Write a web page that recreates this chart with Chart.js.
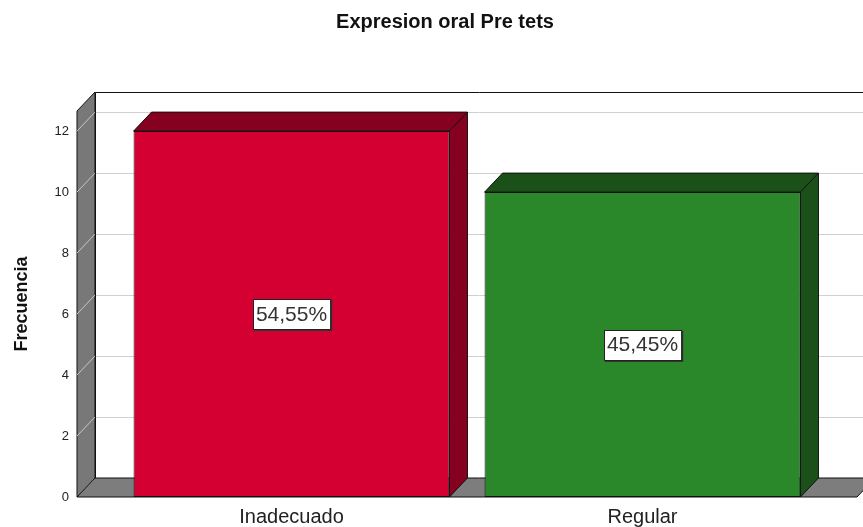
<!DOCTYPE html>
<html>
<head>
<meta charset="utf-8">
<script src="https://cdn.jsdelivr.net/npm/chart.js@4"></script>
<style>
  html, body { margin: 0; padding: 0; background: #fff; }
  canvas { display: block; }
</style>
</head>
<body>
<canvas id="chart" width="863" height="527"></canvas>
<script>
// data
const categories = ["Inadecuado", "Regular"];
const frecuencias = [12, 10];
const porcentajes = ["54,55%", "45,45%"];
const yTicks = [0, 2, 4, 6, 8, 10, 12];

const frontColors = ["#D50032", "#2A882A"];
const darkColors = ["#86001F", "#1B5119"];

const DX = 18, DY = 19;

const box3d = {
  id: "box3d",
  beforeDatasetsDraw(chart) {
    const { ctx, chartArea, scales } = chart;
    const y = scales.y;
    const left = 77, bottom = chartArea.bottom, top = chartArea.top;
    const right = 857;
    ctx.save();
    // gridlines on back plane
    ctx.strokeStyle = "#D0D0D0";
    ctx.lineWidth = 1;
    yTicks.forEach(v => {
      if (v === 0) return;
      const py = Math.round(y.getPixelForValue(v)) + 0.5;
      ctx.beginPath();
      ctx.moveTo(left + DX, py - DY);
      ctx.lineTo(right + DX, py - DY);
      ctx.stroke();
    });
    // left wall
    ctx.beginPath();
    ctx.moveTo(left, top);
    ctx.lineTo(left + DX, top - DY);
    ctx.lineTo(left + DX, bottom - DY);
    ctx.lineTo(left, bottom);
    ctx.closePath();
    ctx.fillStyle = "#787878";
    ctx.fill();
    ctx.strokeStyle = "#111";
    ctx.stroke();
    // wall tick diagonals
    ctx.strokeStyle = "#C8C8C8";
    yTicks.forEach(v => {
      const py = y.getPixelForValue(v);
      ctx.beginPath();
      ctx.moveTo(left, py);
      ctx.lineTo(left + DX, py - DY);
      ctx.stroke();
    });
    // floor
    ctx.beginPath();
    ctx.moveTo(left, bottom);
    ctx.lineTo(left + DX, bottom - DY);
    ctx.lineTo(right + DX, bottom - DY);
    ctx.lineTo(right, bottom);
    ctx.closePath();
    ctx.fillStyle = "#7D7D7D";
    ctx.fill();
    ctx.strokeStyle = "#111";
    ctx.stroke();
    // back frame
    ctx.beginPath();
    ctx.moveTo(left + DX + 0.5, bottom - DY);
    ctx.lineTo(left + DX + 0.5, top - DY + 0.5);
    ctx.lineTo(right + DX, top - DY + 0.5);
    ctx.strokeStyle = "#111";
    ctx.stroke();
    ctx.restore();
  },
  afterDatasetsDraw(chart) {
    const { ctx } = chart;
    const meta = chart.getDatasetMeta(0);
    ctx.save();
    meta.data.forEach((bar, i) => {
      const x0 = bar.x - bar.width / 2, x1 = bar.x + bar.width / 2;
      const yt = bar.y, yb = bar.base;
      ctx.fillStyle = darkColors[i];
      ctx.strokeStyle = "#111";
      ctx.lineWidth = 1;
      // top face
      ctx.beginPath();
      ctx.moveTo(x0, yt);
      ctx.lineTo(x0 + DX, yt - DY);
      ctx.lineTo(x1 + DX, yt - DY);
      ctx.lineTo(x1, yt);
      ctx.closePath();
      ctx.fill();
      ctx.stroke();
      // side face
      ctx.beginPath();
      ctx.moveTo(x1, yt);
      ctx.lineTo(x1 + DX, yt - DY);
      ctx.lineTo(x1 + DX, yb - DY);
      ctx.lineTo(x1, yb);
      ctx.closePath();
      ctx.fill();
      ctx.stroke();
      // percentage label
      const cy = (yt + yb) / 2;
      ctx.font = "21px Arial, 'Liberation Sans', sans-serif";
      const tw = ctx.measureText(porcentajes[i]).width;
      const bw = tw + 6, bh = 30;
      const bx = Math.round(bar.x - bw / 2), by = Math.round(cy - bh / 2);
      ctx.fillStyle = "#333";
      ctx.fillRect(bx + 1, by + 1, bw + 1, bh + 1);
      ctx.fillStyle = "#fff";
      ctx.fillRect(bx, by, bw, bh);
      ctx.strokeStyle = "#222";
      ctx.strokeRect(bx + 0.5, by + 0.5, bw, bh);
      ctx.fillStyle = "#333";
      ctx.textAlign = "center";
      ctx.textBaseline = "middle";
      ctx.fillText(porcentajes[i], bar.x, cy + 1);
    });
    ctx.restore();
  }
};

new Chart(document.getElementById("chart"), {
  type: "bar",
  data: {
    labels: categories,
    datasets: [{
      data: frecuencias,
      backgroundColor: frontColors,
      borderColor: "#111",
      borderWidth: 1,
      borderSkipped: false,
      barPercentage: 0.9,
      categoryPercentage: 1.0
    }]
  },
  options: {
    responsive: false,
    animation: false,
    layout: { padding: { top: 0, right: 0, left: 27, bottom: 0 } },
    plugins: {
      legend: { display: false },
      tooltip: { enabled: false },
      title: {
        display: true,
        text: "Expresion oral Pre tets",
        color: "#111",
        font: { family: "Arial, 'Liberation Sans', sans-serif", size: 20, weight: "bold" },
        padding: { top: 10, bottom: 77 }
      }
    },
    scales: {
      x: {
        grid: { display: false, drawTicks: false },
        border: { display: false },
        ticks: {
          color: "#222",
          padding: 8,
          font: { family: "Arial, 'Liberation Sans', sans-serif", size: 20 }
        },
        afterFit(scale) { scale.height = 30; }
      },
      y: {
        min: 0,
        max: 12.66,
        grid: { display: false, drawTicks: false },
        border: { display: false },
        afterBuildTicks(scale) { scale.ticks = yTicks.map(v => ({ value: v })); },
        ticks: {
          color: "#222",
          padding: 47,
          font: { family: "Arial, 'Liberation Sans', sans-serif", size: 13 }
        },
        title: {
          display: true,
          text: "Frecuencia",
          color: "#111",
          padding: { top: -16, bottom: 0 },
          font: { family: "Arial, 'Liberation Sans', sans-serif", size: 18, weight: "bold" }
        },
        afterFit(scale) {
          scale.width = 89;
          scale.paddingTop = 0;
          scale.paddingBottom = 0;
        }
      },
      y2: {
        type: "linear",
        position: "right",
        grid: { display: false, drawTicks: false },
        border: { display: false },
        ticks: { display: false },
        afterFit(scale) {
          scale.width = 45;
          scale.paddingTop = 0;
          scale.paddingBottom = 0;
        }
      }
    }
  },
  plugins: [box3d]
});
</script>
</body>
</html>
